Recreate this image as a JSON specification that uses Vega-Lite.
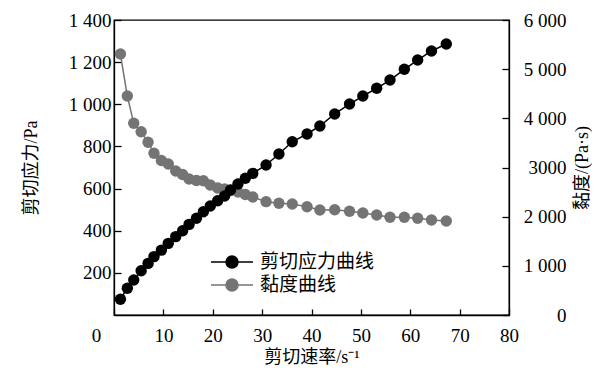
{
  "$schema": "https://vega.github.io/schema/vega-lite/v6.json",
  "width": 395,
  "height": 295,
  "autosize": {"type": "none"},
  "padding": {"left": 114, "top": 20, "right": 104, "bottom": 65},
  "background": "white",
  "config": {
    "view": {"stroke": "black", "strokeWidth": 1.3},
    "font": "Liberation Serif, Times New Roman, serif",
    "axis": {
      "domainColor": "black",
      "domainWidth": 1.3,
      "tickColor": "black",
      "tickWidth": 1.3,
      "grid": false,
      "labelColor": "black",
      "titleColor": "black",
      "labelFont": "Liberation Serif, Times New Roman, serif",
      "titleFont": "Liberation Serif, Noto Sans CJK SC",
      "labelFontSize": 19,
      "titleFontSize": 18,
      "titleFontWeight": "normal"
    }
  },
  "data": {
    "values": [
      {"rate": 1.3, "value": 75, "series": "剪切应力曲线"},
      {"rate": 2.7, "value": 127, "series": "剪切应力曲线"},
      {"rate": 4.0, "value": 166, "series": "剪切应力曲线"},
      {"rate": 5.5, "value": 210, "series": "剪切应力曲线"},
      {"rate": 6.9, "value": 245, "series": "剪切应力曲线"},
      {"rate": 8.1, "value": 277, "series": "剪切应力曲线"},
      {"rate": 9.6, "value": 308, "series": "剪切应力曲线"},
      {"rate": 11.0, "value": 340, "series": "剪切应力曲线"},
      {"rate": 12.5, "value": 372, "series": "剪切应力曲线"},
      {"rate": 13.9, "value": 400, "series": "剪切应力曲线"},
      {"rate": 15.2, "value": 430, "series": "剪切应力曲线"},
      {"rate": 16.7, "value": 459, "series": "剪切应力曲线"},
      {"rate": 18.1, "value": 490, "series": "剪切应力曲线"},
      {"rate": 19.5, "value": 517, "series": "剪切应力曲线"},
      {"rate": 21.0, "value": 542, "series": "剪切应力曲线"},
      {"rate": 22.4, "value": 565, "series": "剪切应力曲线"},
      {"rate": 23.6, "value": 593, "series": "剪切应力曲线"},
      {"rate": 25.1, "value": 622, "series": "剪切应力曲线"},
      {"rate": 26.6, "value": 649, "series": "剪切应力曲线"},
      {"rate": 28.1, "value": 672, "series": "剪切应力曲线"},
      {"rate": 30.8, "value": 712, "series": "剪切应力曲线"},
      {"rate": 33.4, "value": 764, "series": "剪切应力曲线"},
      {"rate": 36.1, "value": 822, "series": "剪切应力曲线"},
      {"rate": 39.1, "value": 859, "series": "剪切应力曲线"},
      {"rate": 41.7, "value": 897, "series": "剪切应力曲线"},
      {"rate": 44.7, "value": 954, "series": "剪切应力曲线"},
      {"rate": 47.7, "value": 1001, "series": "剪切应力曲线"},
      {"rate": 50.4, "value": 1039, "series": "剪切应力曲线"},
      {"rate": 53.2, "value": 1076, "series": "剪切应力曲线"},
      {"rate": 55.9, "value": 1115, "series": "剪切应力曲线"},
      {"rate": 58.8, "value": 1166, "series": "剪切应力曲线"},
      {"rate": 61.5, "value": 1210, "series": "剪切应力曲线"},
      {"rate": 64.3, "value": 1253, "series": "剪切应力曲线"},
      {"rate": 67.3, "value": 1286, "series": "剪切应力曲线"},
      {"rate": 1.3, "value": 5308, "series": "黏度曲线"},
      {"rate": 2.7, "value": 4454, "series": "黏度曲线"},
      {"rate": 4.0, "value": 3899, "series": "黏度曲线"},
      {"rate": 5.5, "value": 3728, "series": "黏度曲线"},
      {"rate": 6.9, "value": 3513, "series": "黏度曲线"},
      {"rate": 8.1, "value": 3289, "series": "黏度曲线"},
      {"rate": 9.6, "value": 3143, "series": "黏度曲线"},
      {"rate": 11.0, "value": 3071, "series": "黏度曲线"},
      {"rate": 12.5, "value": 2929, "series": "黏度曲线"},
      {"rate": 13.9, "value": 2858, "series": "黏度曲线"},
      {"rate": 15.2, "value": 2766, "series": "黏度曲线"},
      {"rate": 16.7, "value": 2736, "series": "黏度曲线"},
      {"rate": 18.1, "value": 2732, "series": "黏度曲线"},
      {"rate": 19.5, "value": 2644, "series": "黏度曲线"},
      {"rate": 21.0, "value": 2583, "series": "黏度曲线"},
      {"rate": 22.4, "value": 2563, "series": "黏度曲线"},
      {"rate": 23.6, "value": 2532, "series": "黏度曲线"},
      {"rate": 25.1, "value": 2502, "series": "黏度曲线"},
      {"rate": 26.6, "value": 2451, "series": "黏度曲线"},
      {"rate": 28.1, "value": 2400, "series": "黏度曲线"},
      {"rate": 30.8, "value": 2305, "series": "黏度曲线"},
      {"rate": 33.4, "value": 2272, "series": "黏度曲线"},
      {"rate": 36.1, "value": 2258, "series": "黏度曲线"},
      {"rate": 39.1, "value": 2203, "series": "黏度曲线"},
      {"rate": 41.7, "value": 2136, "series": "黏度曲线"},
      {"rate": 44.7, "value": 2142, "series": "黏度曲线"},
      {"rate": 47.7, "value": 2111, "series": "黏度曲线"},
      {"rate": 50.4, "value": 2075, "series": "黏度曲线"},
      {"rate": 53.2, "value": 2034, "series": "黏度曲线"},
      {"rate": 55.9, "value": 1987, "series": "黏度曲线"},
      {"rate": 58.8, "value": 1987, "series": "黏度曲线"},
      {"rate": 61.5, "value": 1967, "series": "黏度曲线"},
      {"rate": 64.3, "value": 1932, "series": "黏度曲线"},
      {"rate": 67.3, "value": 1912, "series": "黏度曲线"}
    ]
  },
  "encoding": {
    "x": {
      "field": "rate",
      "type": "quantitative",
      "scale": {"domain": [0, 80], "nice": false, "zero": false},
      "axis": {
        "title": "剪切速率/s⁻¹",
        "values": [0, 10, 20, 30, 40, 50, 60, 70, 80],
        "tickSize": -6,
        "labelPadding": 17,
        "labelFlush": false,
        "labelOverlap": false,
        "labelOffset": {"condition": {"test": "datum.value === 0", "value": -18}, "value": 0},
        "titlePadding": 3
      }
    },
    "color": {
      "field": "series",
      "type": "nominal",
      "scale": {"domain": ["剪切应力曲线", "黏度曲线"], "range": ["#000000", "#747474"]},
      "legend": {
        "title": null,
        "orient": "none",
        "legendX": 107,
        "legendY": 231,
        "padding": 0,
        "symbolType": "M-2.1,0L2.1,0M-0.6,0A0.6,0.6,0,1,1,0.6,0A0.6,0.6,0,1,1,-0.6,0Z",
        "symbolSize": 400,
        "symbolStrokeWidth": 1.5,
        "labelFont": "Liberation Serif, Noto Sans CJK SC",
        "labelFontSize": 19,
        "labelColor": "black",
        "labelOffset": 17,
        "rowPadding": 2,
        "encode": {
          "symbols": {
            "update": {
              "fill": {"scale": "color", "field": "value"},
              "stroke": {"scale": "color", "field": "value"},
              "opacity": {"value": 1}
            }
          }
        }
      }
    }
  },
  "layer": [
    {
      "transform": [{"filter": "datum.series === '黏度曲线'"}],
      "encoding": {
        "y": {
          "field": "value",
          "type": "quantitative",
          "scale": {"domain": [0, 6000], "nice": false},
          "axis": {
            "orient": "right",
            "title": "黏度/(Pa·s)",
            "values": [0, 1000, 2000, 3000, 4000, 5000, 6000],
            "labelExpr": "datum.value === 3000 ? '3000' : replace(format(datum.value, ','), ',', ' ')",
            "tickSize": -7,
            "labelAlign": "right",
            "labelPadding": 64,
            "titleAngle": 270,
            "titlePadding": 25
          }
        }
      },
      "layer": [
        {"mark": {"type": "line", "strokeWidth": 1.5}},
        {"mark": {"type": "point", "filled": true, "size": 130, "opacity": 1}}
      ]
    },
    {
      "transform": [{"filter": "datum.series === '剪切应力曲线'"}],
      "encoding": {
        "y": {
          "field": "value",
          "type": "quantitative",
          "scale": {"domain": [0, 1400], "nice": false},
          "axis": {
            "orient": "left",
            "title": "剪切应力/Pa",
            "values": [200, 400, 600, 800, 1000, 1200, 1400],
            "labelExpr": "replace(format(datum.value, ','), ',', ' ')",
            "tickSize": -7,
            "labelPadding": 10,
            "titlePadding": 28
          }
        }
      },
      "layer": [
        {"mark": {"type": "line", "strokeWidth": 1.5}},
        {"mark": {"type": "point", "filled": true, "size": 130, "opacity": 1}}
      ]
    }
  ],
  "resolve": {"scale": {"y": "independent"}}
}
